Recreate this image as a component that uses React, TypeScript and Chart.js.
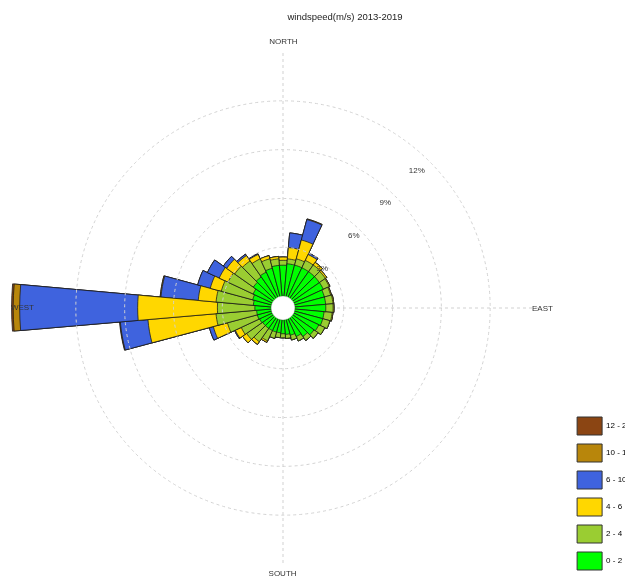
import { useEffect, useRef } from 'react';
import { Chart, registerables } from 'chart.js';

Chart.register(...registerables);

// Sector centres, degrees clockwise from north
const directions = [
  0, 10, 20, 30, 40, 50, 60, 70, 80, 90, 100, 110,
  120, 130, 140, 150, 160, 170, 180, 190, 200, 210, 220, 230,
  240, 250, 260, 270, 280, 290, 300, 310, 320, 330, 340, 350,
];

// Frequency (%) of each wind-speed class, per direction
const speed0to2 = [
  1.9, 2.0, 2.0, 2.0, 2.0, 2.0, 2.0, 1.9, 1.9, 1.9, 1.8, 1.8,
  1.7, 1.6, 1.4, 1.2, 1.0, 0.9, 0.85, 0.8, 0.8, 0.8, 0.8, 0.8,
  0.85, 0.9, 0.9, 1.0, 1.1, 1.2, 1.3, 1.5, 1.6, 1.7, 1.8, 1.9,
];
const speed2to4 = [
  0.3, 0.3, 0.4, 0.5, 0.5, 0.45, 0.4, 0.4, 0.45, 0.45, 0.5, 0.45,
  0.4, 0.3, 0.3, 0.3, 0.3, 0.25, 0.25, 0.3, 0.4, 0.7, 1.0, 1.2,
  1.25, 1.9, 2.5, 2.3, 2.3, 2.0, 1.7, 1.4, 1.2, 0.9, 0.6, 0.4,
];
const speed4to6 = [
  0.2, 0.7, 1.2, 0.4, 0.2, 0.1, 0.05, 0.05, 0.05, 0.05, 0.05, 0,
  0, 0, 0, 0, 0, 0, 0, 0, 0, 0.1, 0.2, 0.3,
  0.4, 0.9, 4.2, 4.9, 1.1, 0.7, 0.6, 0.6, 0.4, 0.3, 0.2, 0.15,
];
const speed6to10 = [
  0, 0.9, 1.3, 0.1, 0, 0, 0, 0, 0, 0, 0, 0,
  0, 0, 0, 0, 0, 0, 0, 0, 0, 0, 0, 0,
  0.05, 0.25, 1.7, 7.25, 2.3, 0.8, 0.8, 0.25, 0.1, 0.05, 0, 0,
];
const speed10to12 = [
  0, 0, 0.04, 0, 0, 0, 0, 0, 0, 0, 0, 0,
  0, 0, 0, 0, 0, 0, 0, 0, 0, 0, 0, 0,
  0, 0, 0.03, 0.4, 0.05, 0, 0, 0, 0, 0, 0, 0,
];
const speed12to20 = [
  0, 0, 0, 0, 0, 0, 0, 0, 0, 0, 0, 0,
  0, 0, 0, 0, 0, 0, 0, 0, 0, 0, 0, 0,
  0, 0, 0.02, 0.1, 0, 0, 0, 0, 0, 0, 0, 0,
];

const speedClasses = ['0 - 2', '2 - 4', '4 - 6', '6 - 10', '10 - 12', '12 - 20'];
const classColors = ['#00FF00', '#9ACD32', '#FFD700', '#3F63DE', '#B8860B', '#8B4513'];
const compassNames: Record<number, string> = { 0: 'NORTH', 90: 'EAST', 180: 'SOUTH', 270: 'WEST' };
const ringValues = [3, 6, 9, 12];
const titleText = 'windspeed(m/s) 2013-2019';

// radial range: negative minimum leaves a calm hole in the middle
const R_MIN = -0.73;
const R_MAX = 15;
const LABEL_BEARING = 44;

const classSeries = [speed0to2, speed2to4, speed4to6, speed6to10, speed10to12, speed12to20];

// Each class is drawn as a wedge reaching its cumulative total; the
// lower classes sit on top so the rose reads as stacked segments.
const cumulative = classSeries.map((_, k) =>
  directions.map((_, i) =>
    classSeries.slice(0, k + 1).reduce((sum, series) => sum + series[i], 0)
  )
);

const compassLabel = (label: unknown) => compassNames[Number(label)] ?? '';
const compassPadding = (ctx: any) => {
  const l = ctx.label;
  if (l === 'EAST' || l === 'WEST') return -7;
  if (l === 'NORTH' || l === 'SOUTH') return 5;
  return 0;
};

const calmHole = {
  id: 'calmHole',
  afterDatasetsDraw(chart: any) {
    const s = chart.scales.r;
    const ctx = chart.ctx;
    ctx.save();
    ctx.beginPath();
    ctx.arc(s.xCenter, s.yCenter, s.getDistanceFromCenterForValue(0), 0, Math.PI * 2);
    ctx.fillStyle = '#ffffff';
    ctx.fill();
    ctx.lineWidth = 0.6;
    ctx.strokeStyle = 'rgba(60,60,60,0.35)';
    ctx.stroke();
    ctx.restore();
  },
};

// ring percentages, written horizontally along one bearing
const ringLabels = {
  id: 'ringLabels',
  afterDraw(chart: any) {
    const s = chart.scales.r;
    const ctx = chart.ctx;
    const a = (LABEL_BEARING * Math.PI) / 180;
    ctx.save();
    ctx.font = '8px "Liberation Sans", Arial, sans-serif';
    ctx.fillStyle = '#333';
    ctx.textAlign = 'center';
    ctx.textBaseline = 'middle';
    ringValues.forEach((v) => {
      const d = s.getDistanceFromCenterForValue(v) * 0.93;
      ctx.fillText(`${v}%`, s.xCenter + d * Math.sin(a), s.yCenter - d * Math.cos(a) + 1);
    });
    ctx.restore();
  },
};

export default function App() {
  const canvasRef = useRef<HTMLCanvasElement | null>(null);

  useEffect(() => {
    if (!canvasRef.current) return;
    Chart.defaults.font.family = '"Liberation Sans", Arial, sans-serif';

    const chart = new Chart(canvasRef.current, {
      type: 'polarArea',
      data: {
        labels: directions,
        datasets: speedClasses.map((label, k) => ({
          label,
          data: cumulative[k],
          backgroundColor: classColors[k],
          borderColor: 'rgba(25,25,25,0.85)',
          borderWidth: 0.9,
          clip: false,
          rAxisID: 'r',
        })),
      },
      options: {
        animation: false,
        responsive: false,
        devicePixelRatio: 1,
        layout: { padding: 0 },
        plugins: {
          title: {
            display: true,
            text: titleText,
            color: '#222',
            font: { size: 9.5, weight: 'normal' },
            padding: { top: 4, bottom: 14 },
          },
          legend: {
            position: 'right',
            align: 'end',
            labels: {
              boxWidth: 25,
              boxHeight: 18,
              padding: 9,
              color: '#444',
              font: { size: 8 },
              generateLabels: (c: any) =>
                c.data.datasets
                  .map((ds: any, i: number) => ({
                    text: ds.label,
                    fillStyle: ds.backgroundColor,
                    strokeStyle: '#333',
                    lineWidth: 1,
                    hidden: false,
                    datasetIndex: i,
                  }))
                  .reverse(),
            },
          },
          tooltip: { enabled: false },
        },
        scales: {
          r: {
            type: 'radialLinear',
            startAngle: -4.9,
            min: R_MIN,
            max: R_MAX,
            grid: { display: true, circular: true, color: '#d2d2d2', lineWidth: 1, z: 1 },
            border: { dash: [3, 3] },
            ticks: { display: false },
            afterBuildTicks: (s: any) => {
              s.ticks = ringValues.map((value) => ({ value }));
            },
            angleLines: { display: false },
            pointLabels: {
              display: true,
              centerPointLabels: true,
              callback: compassLabel,
              padding: compassPadding,
              color: '#333',
              font: { size: 8 },
            },
          },
          compass: {
            type: 'radialLinear',
            axis: 'r',
            startAngle: 0,
            min: R_MIN,
            max: R_MAX,
            grid: { display: false },
            ticks: { display: false },
            angleLines: {
              display: true,
              color: '#d2d2d2',
              lineWidth: (ctx: any) => (ctx.label ? 1 : 0),
              borderDash: [3, 3],
            },
            pointLabels: {
              display: true,
              callback: compassLabel,
              padding: compassPadding,
              color: 'rgba(0,0,0,0)',
              font: { size: 8 },
            },
          },
          // empty strip to the right of the legend
          gap: {
            type: 'linear',
            axis: 'y',
            position: 'right',
            weight: 2000,
            grid: { display: false },
            border: { display: false },
            ticks: { display: false },
            afterFit: (s: any) => {
              s.width = 51;
            },
          },
        },
      } as any,
      plugins: [calmHole, ringLabels],
    });

    return () => chart.destroy();
  }, []);

  return (
    <div style={{ position: 'fixed', left: 0, top: 0, width: 625, height: 579, overflow: 'hidden', background: '#fff' }}>
      <canvas ref={canvasRef} width={694} height={571} style={{ position: 'absolute', left: -2, top: 8, display: 'block' }} />
    </div>
  );
}
